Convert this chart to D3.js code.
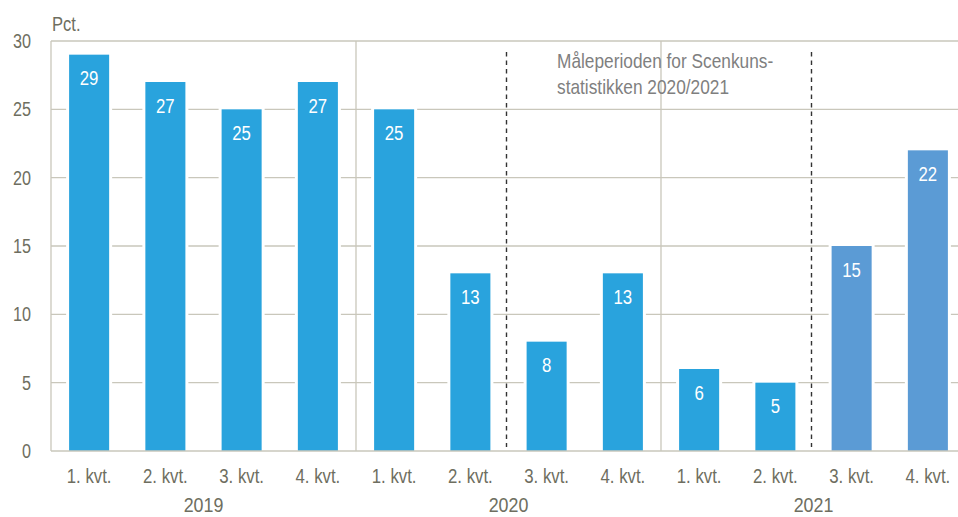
<!DOCTYPE html>
<html>
<head>
<meta charset="utf-8">
<script src="https://cdn.jsdelivr.net/npm/d3@7"></script>
<style>
  html, body { margin: 0; padding: 0; background: #fff; overflow: hidden; }
  svg { display: block; }
  text { font-family: "Liberation Sans", Arial, sans-serif; }
</style>
</head>
<body>
<svg id="chart" width="958" height="517"></svg>
<script>
// ---- data ----
const quarters = ["1. kvt.", "2. kvt.", "3. kvt.", "4. kvt.", "1. kvt.", "2. kvt.", "3. kvt.", "4. kvt.", "1. kvt.", "2. kvt.", "3. kvt.", "4. kvt."];
const years = ["2019", "2020", "2021"];
const values = [29, 27, 25, 27, 25, 13, 8, 13, 6, 5, 15, 22];
const highlighted = [false, false, false, false, false, false, false, false, false, false, true, true];
const yTicks = [0, 5, 10, 15, 20, 25, 30];
const yUnit = "Pct.";
const noteLines = ["Måleperioden for Scenkuns-", "statistikken 2020/2021"];
const periodBounds = [6, 10]; // measurement period between these quarter indices

// ---- layout ----
const svg = d3.select("#chart");
const pLeft = 51, pRight = 966, pTop = 41, pBottom = 451;
const textCol = "#6e6e60";
const gridCol = "#c9c7bb";
const barCol = "#29a3dd";
const barCol2 = "#5b9bd5";

const idx = values.map((d, i) => i);
const x = d3.scaleBand().domain(idx).range([pLeft, pRight]).paddingInner(0.475).paddingOuter(0.2375);
const y = d3.scaleLinear().domain([0, 30]).range([pBottom, pTop]);
const step = x.step();
const bound = i => pLeft + i * step;

// condensed text placement helper
const place = (sel, fx, fy, s) => sel.attr("transform", (d, i) => `translate(${fx(d, i)},${fy(d, i)}) scale(${s},1)`);

// gridlines
svg.append("g").selectAll("line").data(yTicks.filter(t => t > 0)).join("line")
  .attr("x1", pLeft).attr("x2", pRight)
  .attr("y1", d => y(d)).attr("y2", d => y(d))
  .attr("stroke", gridCol).attr("stroke-width", 1.3);

// group separators
svg.append("g").selectAll("line").data([4, 8]).join("line")
  .attr("x1", d => bound(d)).attr("x2", d => bound(d))
  .attr("y1", pTop).attr("y2", pBottom)
  .attr("stroke", gridCol).attr("stroke-width", 1.3);

// bar halos
svg.append("g").selectAll("rect").data(idx).join("rect")
  .attr("x", i => x(i) - 3).attr("width", x.bandwidth() + 6)
  .attr("y", i => y(values[i]) - 3).attr("height", i => y(0) - y(values[i]) + 3)
  .attr("fill", "#fff");

// bars
svg.append("g").selectAll("rect").data(idx).join("rect")
  .attr("x", i => x(i)).attr("width", x.bandwidth())
  .attr("y", i => y(values[i])).attr("height", i => y(0) - y(values[i]))
  .attr("fill", i => highlighted[i] ? barCol2 : barCol);

// value labels
place(svg.append("g").selectAll("text").data(idx).join("text")
  .attr("text-anchor", "middle")
  .attr("fill", "#fff")
  .attr("font-size", 20.5)
  .text(i => values[i]),
  i => x(i) + x.bandwidth() / 2, i => y(values[i]) + 30.5, 0.82);

// axes lines
svg.append("line").attr("x1", pLeft).attr("x2", pLeft).attr("y1", pTop).attr("y2", pBottom)
  .attr("stroke", gridCol).attr("stroke-width", 1.3);
svg.append("line").attr("x1", pLeft).attr("x2", pRight).attr("y1", pBottom).attr("y2", pBottom)
  .attr("stroke", gridCol).attr("stroke-width", 1.6);

// y tick labels
place(svg.append("g").selectAll("text").data(yTicks).join("text")
  .attr("text-anchor", "end").attr("fill", textCol).attr("font-size", 19.5)
  .text(d => d),
  d => 31, d => y(d) + 7, 0.83);

place(svg.append("text").datum(yUnit).attr("fill", textCol).attr("font-size", 19.5).text(d => d),
  () => 52, () => 31, 0.85);

// category labels
place(svg.append("g").selectAll("text").data(idx).join("text")
  .attr("text-anchor", "middle").attr("fill", textCol).attr("font-size", 20.5)
  .text(i => quarters[i]),
  i => x(i) + x.bandwidth() / 2, () => 483, 0.82);

// year labels
place(svg.append("g").selectAll("text").data(years).join("text")
  .attr("text-anchor", "middle").attr("fill", textCol).attr("font-size", 20.5)
  .text(d => d),
  (d, g) => (x(g * 4) + x(g * 4 + 3) + x.bandwidth()) / 2, () => 512, 0.87);

// dashed period lines
svg.append("g").selectAll("line").data(periodBounds).join("line")
  .attr("x1", d => bound(d) - 2).attr("x2", d => bound(d) - 2)
  .attr("y1", 52).attr("y2", 447)
  .attr("stroke", "#333").attr("stroke-width", 1.4).attr("stroke-dasharray", "4.5,4");

// note
const note = svg.append("text").attr("transform", "translate(557,68) scale(0.865,1)")
  .attr("fill", "#7f7f7f").attr("font-size", 20);
note.selectAll("tspan").data(noteLines).join("tspan")
  .attr("x", 0).attr("dy", (d, i) => i === 0 ? 0 : 26).text(d => d);
</script>
</body>
</html>
